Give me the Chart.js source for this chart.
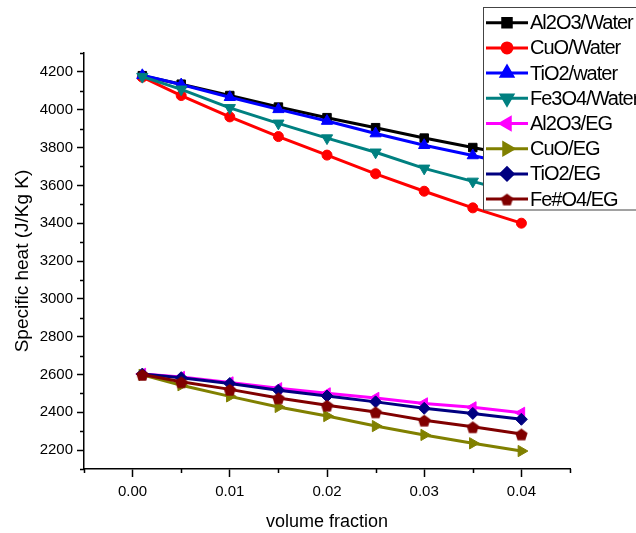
<!DOCTYPE html>
<html>
<head>
<meta charset="utf-8">
<script src="https://cdn.jsdelivr.net/npm/chart.js@4.4.0/dist/chart.umd.min.js"></script>
<style>
html, body { margin: 0; padding: 0; background: #fff; }
#caixa { width: 636px; height: 533px; }
</style>
</head>
<body>
<div id="caixa"><canvas id="grafico"></canvas></div>
<script>
// fração volumétrica
const fracoes = [0.001, 0.005, 0.01, 0.015, 0.02, 0.025, 0.03, 0.035, 0.04];

const al2o3Agua = [4180, 4135, 4075, 4014, 3958, 3905, 3850, 3800, 3750];
const cuoAgua   = [4172, 4075, 3962, 3858, 3760, 3661, 3569, 3481, 3400];
const tio2Agua  = [4182, 4133, 4066, 4002, 3940, 3874, 3812, 3758, 3700];
const fe3o4Agua = [4175, 4108, 4010, 3928, 3850, 3775, 3690, 3621, 3550];
const al2o3EG   = [2603, 2587, 2558, 2527, 2500, 2476, 2447, 2426, 2397];
const cuoEG     = [2598, 2543, 2484, 2428, 2380, 2327, 2280, 2236, 2195];
const tio2EG    = [2602, 2583, 2552, 2517, 2486, 2455, 2421, 2394, 2363];
const fe3o4EG   = [2600, 2561, 2521, 2476, 2437, 2402, 2358, 2323, 2285];

const nomes = ['Al2O3/Water', 'CuO/Water', 'TiO2/water', 'Fe3O4/Water',
               'Al2O3/EG', 'CuO/EG', 'TiO2/EG', 'Fe#O4/EG'];

const ticksY = [2200, 2400, 2600, 2800, 3000, 3200, 3400, 3600, 3800, 4000, 4200];
const ticksX = [0.00, 0.01, 0.02, 0.03, 0.04];

function pentagono(cor, r) {
    const c = document.createElement('canvas');
    const s = Math.ceil(r * 2 + 2);
    c.width = s; c.height = s;
    const g = c.getContext('2d');
    g.fillStyle = cor;
    g.beginPath();
    for (let i = 0; i < 5; i++) {
        const a = (-90 + i * 72) * Math.PI / 180;
        g.lineTo(s / 2 + r * Math.cos(a), s / 2 + 1 + r * Math.sin(a));
    }
    g.closePath();
    g.fill();
    return c;
}

const estilos = [
    { cor: '#000000', ponto: 'rect', raio: 6, rot: 0 },
    { cor: '#ff0000', ponto: 'circle', raio: 5, rot: 0 },
    { cor: '#0000ff', ponto: 'triangle', raio: 6.5, rot: 0 },
    { cor: '#008080', ponto: 'triangle', raio: 6.5, rot: 180 },
    { cor: '#ff00ff', ponto: 'triangle', raio: 6.5, rot: 270 },
    { cor: '#808000', ponto: 'triangle', raio: 6.5, rot: 90 },
    { cor: '#000080', ponto: 'rectRot', raio: 6, rot: 0 },
    { cor: '#800000', ponto: pentagono('#800000', 6.5), raio: 6.5, rot: 0 }
];

const series = [al2o3Agua, cuoAgua, tio2Agua, fe3o4Agua, al2o3EG, cuoEG, tio2EG, fe3o4EG];

const datasets = series.map((valores, i) => ({
    label: nomes[i],
    data: valores.map((v, j) => ({ x: fracoes[j], y: v })),
    borderColor: estilos[i].cor,
    backgroundColor: estilos[i].cor,
    borderWidth: 3,
    pointStyle: estilos[i].ponto,
    pointRadius: estilos[i].raio,
    pointRotation: estilos[i].rot,
    pointBorderWidth: 1,
    order: 8 - i
}));

function ehMaiorX(v) {
    return ticksX.some(t => Math.abs(t - v) < 1e-9);
}
function ehMaiorY(v) {
    return ticksY.includes(Math.round(v));
}

// tiques menores, mais curtos
const tiquesMenores = {
    id: 'tiquesMenores',
    afterDraw(chart) {
        const ctx = chart.ctx;
        const sx = chart.scales.x, sy = chart.scales.y;
        ctx.save();
        ctx.strokeStyle = '#000';
        ctx.lineWidth = 1.5;
        ctx.beginPath();
        sx.ticks.forEach(t => {
            if (!ehMaiorX(t.value)) {
                const px = Math.round(sx.getPixelForValue(t.value)) + 0.5;
                ctx.moveTo(px, sx.top);
                ctx.lineTo(px, sx.top + 4);
            }
        });
        sy.ticks.forEach(t => {
            if (!ehMaiorY(t.value)) {
                const py = Math.round(sy.getPixelForValue(t.value)) + 0.5;
                ctx.moveTo(sy.right, py);
                ctx.lineTo(sy.right - 4, py);
            }
        });
        ctx.stroke();
        ctx.restore();
    }
};

// legenda desenhada na mão, com linha e marcador
const legendaOrigin = {
    id: 'legendaOrigin',
    afterDraw(chart) {
        const ctx = chart.ctx;
        const x0 = 483.5, y0 = 7.5, w = 160, h = 202.5;
        ctx.save();
        ctx.fillStyle = '#fff';
        ctx.fillRect(x0, y0, w, h);
        ctx.strokeStyle = '#444';
        ctx.lineWidth = 1;
        ctx.strokeRect(x0, y0, w, h);
        ctx.font = '20px "Liberation Sans", Arial, sans-serif';
        ctx.letterSpacing = '-1px';
        ctx.textBaseline = 'middle';
        chart.data.datasets.forEach((ds, i) => {
            const yy = 22.7 + i * 25.2;
            ctx.strokeStyle = ds.borderColor;
            ctx.lineWidth = 3;
            ctx.beginPath();
            ctx.moveTo(486, yy);
            ctx.lineTo(528, yy);
            ctx.stroke();
            ctx.fillStyle = ds.backgroundColor;
            Chart.helpers.drawPoint(ctx, {
                pointStyle: ds.pointStyle,
                radius: ds.pointRadius,
                rotation: ds.pointRotation,
                borderWidth: 1
            }, 507, yy);
            ctx.fillStyle = '#000';
            ctx.fillText(ds.label, 530, yy + 1);
        });
        ctx.restore();
    }
};

const fonteEixo = { family: '"Liberation Sans", Arial, sans-serif', size: 15 };

new Chart(document.getElementById('grafico').getContext('2d'), {
    type: 'line',
    data: { datasets: datasets },
    options: {
        responsive: true,
        maintainAspectRatio: false,
        animation: false,
        layout: { padding: { top: 53, right: 66, left: 0, bottom: 0 } },
        plugins: {
            legend: { display: false },
            tooltip: { enabled: false }
        },
        scales: {
            x: {
                type: 'linear',
                min: -0.005,
                max: 0.045,
                afterFit: s => { s.height = 64; },
                border: { color: '#000', width: 1.5 },
                grid: {
                    drawOnChartArea: false,
                    tickLength: 8,
                    tickWidth: 1.5,
                    tickColor: c => (c.tick && ehMaiorX(c.tick.value)) ? '#000' : 'rgba(0,0,0,0)'
                },
                ticks: {
                    stepSize: 0.005,
                    autoSkip: false,
                    maxRotation: 0,
                    color: '#000',
                    font: fonteEixo,
                    padding: 6,
                    callback: v => ehMaiorX(v) ? Math.abs(v).toFixed(2) : ''
                },
                title: {
                    display: true,
                    text: 'volume fraction',
                    color: '#000',
                    font: { family: '"Liberation Sans", Arial, sans-serif', size: 18 },
                    padding: { top: 4, bottom: 0 }
                }
            },
            y: {
                min: 2100,
                max: 4300,
                afterFit: s => { s.width = 84; },
                border: { color: '#000', width: 1.5 },
                grid: {
                    drawOnChartArea: false,
                    tickLength: 7,
                    tickWidth: 1.5,
                    tickColor: c => (c.tick && ehMaiorY(c.tick.value)) ? '#000' : 'rgba(0,0,0,0)'
                },
                ticks: {
                    stepSize: 100,
                    autoSkip: false,
                    color: '#000',
                    font: fonteEixo,
                    padding: 4,
                    callback: v => ehMaiorY(v) ? String(v) : ''
                },
                title: {
                    display: true,
                    text: 'Specific heat (J/Kg K)',
                    color: '#000',
                    font: { family: '"Liberation Sans", Arial, sans-serif', size: 19 },
                    padding: { top: 11, bottom: 0 }
                }
            }
        }
    },
    plugins: [tiquesMenores, legendaOrigin]
});
</script>
</body>
</html>
